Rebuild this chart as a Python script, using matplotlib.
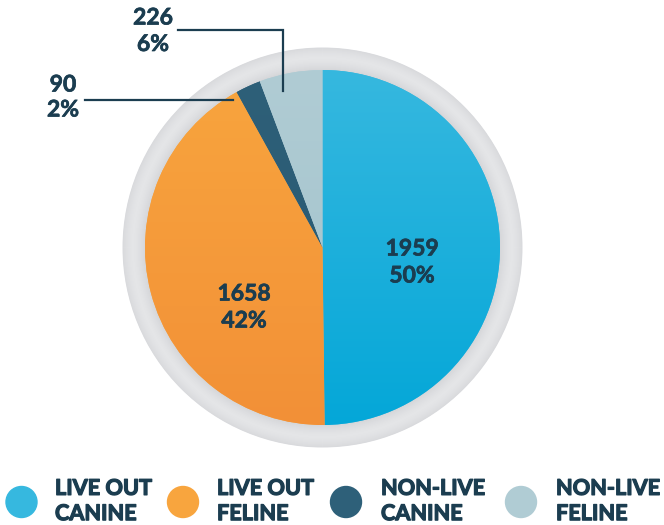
"""
Pie chart: live-out vs non-live outcomes for canine and feline intakes.
Drawn on a pixel-sized canvas so the layout follows the reference.
"""
import matplotlib
matplotlib.use("Agg")
import matplotlib.pyplot as plt
import matplotlib.patches as mpatches
import matplotlib.patheffects as pe
from matplotlib.colors import LinearSegmentedColormap, to_rgb
import numpy as np

W, H = 664, 525

categories = ["LIVE OUT\nCANINE", "LIVE OUT\nFELINE", "NON-LIVE\nCANINE", "NON-LIVE\nFELINE"]
counts = [1959, 1658, 90, 226]
percents = ["50%", "42%", "2%", "6%"]

# (light, dark) gradient ends for each slice
_GRAD = [("#36b8df", "#04a7d8"),
         ("#f8a53e", "#f29037"),
         ("#2e6079", "#285870"),
         ("#b0ccd4", "#a1c2cb")]
_TEXT = "#1b3d50"
_FONT = "Lato"


def Y(py):
    return H - py


fig = plt.figure(figsize=(W / 100, H / 100), dpi=100)
ax = fig.add_axes([0, 0, 1, 1])

cx, cy = 322.5, Y(247.5)
r_pie = 177.5
r_ring = 200

# grey ring behind the pie: soft radial shading, outside in
edge = np.array(to_rgb("#d5d6d9"))
mid = np.array(to_rgb("#e4e5e7"))
for r in np.arange(r_ring, r_pie - 3, -0.5):
    t = (r - r_pie) / (r_ring - r_pie)
    k = abs(t - 0.55) / 0.55
    col = mid + (edge - mid) * min(k, 1) ** 1.6
    ax.add_patch(mpatches.Circle((cx, cy), r, color=col, lw=0, zorder=1))

wedges, _ = ax.pie(counts, startangle=90, counterclock=False, radius=r_pie,
                   center=(cx, cy), frame=True,
                   wedgeprops=dict(linewidth=0, zorder=2))

grad = np.linspace(0, 1, 256).reshape(-1, 1)
for w, (c1, c2) in zip(wedges, _GRAD):
    cmap = LinearSegmentedColormap.from_list("g", [c1, c2])
    w.set_facecolor(c1)
    im = ax.imshow(grad, cmap=cmap, aspect="auto", zorder=3,
                   extent=(cx - r_pie, cx + r_pie, cy - r_pie, cy + r_pie),
                   origin="upper", interpolation="bilinear")
    im.set_clip_path(w)

thick = [pe.withStroke(linewidth=0.5, foreground=_TEXT)]
txt = dict(family=_FONT, fontweight="bold", color=_TEXT, fontsize=16.5,
           ha="center", va="center", zorder=6, path_effects=thick)

# labels inside the big slices
ax.text(412, Y(249), str(counts[0]), **txt)
ax.text(412, Y(276), percents[0], **txt)
ax.text(244, Y(294), str(counts[1]), **txt)
ax.text(244, Y(321), percents[1], **txt)

# small slices: leader lines
ax.plot([178, 283, 283], [Y(30), Y(30), Y(91)], color=_TEXT, lw=1.6, zorder=6,
        solid_joinstyle="miter")
ax.text(153, Y(18), str(counts[3]), **txt)
ax.text(153, Y(44.5), percents[3], **txt)

ax.plot([85, 233], [Y(100), Y(100)], color=_TEXT, lw=1.6, zorder=6)
ax.text(63, Y(85), str(counts[2]), **txt)
ax.text(63, Y(110), percents[2], **txt)

# legend along the bottom
leg_circle_x = [21.5, 183, 346, 521]
leg_text_x = [55, 217, 381, 556]
for i, label in enumerate(categories):
    c1, c2 = _GRAD[i]
    ax.add_patch(mpatches.Circle((leg_circle_x[i], Y(502)), 15.5, color=c1, zorder=4))
    ax.text(leg_text_x[i], Y(501), label, family=_FONT, fontweight="bold",
            color=_TEXT, fontsize=15.6, ha="left", va="center",
            linespacing=1.25, zorder=6,
            path_effects=[pe.withStroke(linewidth=0.9, foreground=_TEXT)])

ax.set_xlim(0, W)
ax.set_ylim(0, H)
ax.set_aspect("auto")
ax.axis("off")

fig.savefig("out.png", dpi=100, facecolor="white")
